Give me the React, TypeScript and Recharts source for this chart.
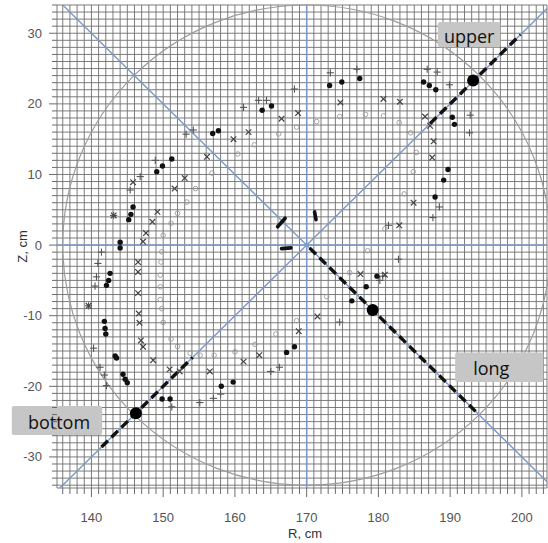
import React from 'react';
import {
  ScatterChart,
  Scatter,
  XAxis,
  YAxis,
  CartesianGrid,
  ReferenceLine,
  ReferenceArea,
  ReferenceDot,
  Label,
} from 'recharts';

// ---- axes ----
const X_MIN = 135.2;
const X_MAX = 203.5;
const Y_MIN = -34.4;
const Y_MAX = 34;
const xTickLabels = [140, 150, 160, 170, 180, 190, 200];
const yTickLabels = [-30, -20, -10, 0, 10, 20, 30];
const GRID_STEP = 1;
const xGridTicks: number[] = [];
for (let v = 136; v <= 203; v += GRID_STEP) xGridTicks.push(v);
const yGridTicks: number[] = [];
for (let v = -34; v <= 34; v += GRID_STEP) yGridTicks.push(v);

// ---- series (R, Z) ----
const plusSeries: [number, number][] = [
  [148.9, 12.0], [146.8, 9.7], [145.4, 7.8], [143.1, 4.2], [141.4, -1.0], [140.9, -2.6],
  [140.7, -4.5], [140.5, -5.8], [139.6, -8.6], [140.3, -14.6], [141.2, -17.3], [141.8, -18.4],
  [142.1, -19.9], [151.2, -22.9], [155.1, -22.3], [157.0, -21.7], [158.0, -21.1], [165.0, -17.9],
  [166.2, -17.3], [174.6, -10.9], [180.6, -4.4], [180.2, -5.0], [181.4, 2.8], [182.8, -2.0],
  [187.6, 3.9], [188.5, 5.4], [192.7, 15.9], [192.8, 18.4], [189.9, 22.7], [188.2, 24.5],
  [186.8, 24.9], [177.0, 24.9], [173.3, 24.4], [168.3, 22.1], [164.4, 20.5], [163.3, 20.5],
  [161.2, 19.5], [154.2, 16.3], [153.2, 15.7],
];

const crossSeries: [number, number][] = [
  [145.8, 8.9], [143.1, 4.2], [139.6, -8.6], [148.5, 3.3], [149.2, 4.7], [147.6, 1.7],
  [147.2, 0.5], [146.5, -2.4], [146.5, -3.8], [146.5, -6.8], [146.6, -9.7], [146.7, -11.0],
  [146.9, -13.5], [147.2, -14.4], [148.6, -16.3], [150.9, -17.6], [152.3, -17.9], [156.5, -17.9],
  [161.2, -16.5], [163.4, -15.6], [168.9, -12.2], [171.5, -10.1], [177.5, -4.1], [180.9, -4.2],
  [182.9, 2.8], [184.9, 6.0], [187.5, 12.4], [187.7, 14.7], [187.2, 16.9], [186.5, 18.2],
  [183.0, 20.3], [180.7, 20.7], [174.7, 20.2], [168.8, 18.7], [166.5, 17.9], [161.9, 16.0],
  [159.8, 15.0], [156.1, 12.5], [153.0, 9.5], [151.6, 8.0],
];

const dotSeries: [number, number][] = [
  [149.1, 10.4], [149.9, 11.2], [151.2, 12.2], [145.8, 5.4], [145.5, 4.35], [145.2, 3.6],
  [144.0, 0.4], [144.0, -0.4], [142.6, -4.0], [142.4, -5.0], [142.1, -5.7], [141.8, -10.8],
  [141.9, -11.8], [142.0, -12.6], [143.3, -15.7], [143.5, -16.0], [144.4, -18.3], [144.7, -19.0],
  [145.0, -19.5], [149.85, -21.8], [150.96, -21.8], [158.1, -20.0], [159.75, -19.4], [167.2, -15.2],
  [168.3, -14.4], [176.3, -7.9], [178.3, -5.9], [179.8, -4.4], [187.9, 6.8], [189.1, 9.2],
  [189.7, 10.7], [190.3, 18.1], [190.6, 17.1], [188.0, 22.0], [187.1, 22.6], [186.3, 23.1],
  [177.4, 23.6], [174.9, 23.1], [173.2, 22.6], [165.1, 19.7], [163.8, 19.1], [157.7, 16.2],
  [156.9, 15.8],
];

const ringSeries: [number, number][] = [
  [154.5, 8.0], [153.3, 6.1], [152.0, 4.5], [151.1, 3.1], [156.8, 10.2], [160.4, 12.9],
  [162.7, 14.2], [166.1, 15.75], [168.6, 16.7], [171.4, 17.5], [174.6, 18.2], [178.2, 18.5],
  [180.7, 18.3], [182.9, 17.35], [184.5, 15.9], [185.3, 13.1], [184.85, 10.4], [183.6, 7.25],
  [180.9, 2.3], [178.5, -0.8], [176.0, -3.9], [172.8, -7.3], [168.6, -10.7], [165.7, -12.6],
  [162.8, -14.05], [160.0, -15.1], [157.1, -15.6], [155.15, -15.6], [153.75, -15.3], [152.0, -14.35],
  [151.1, -13.3], [150.0, -10.95], [149.8, -9.0], [149.6, -7.7], [150.0, 1.4], [149.8, -0.95],
  [149.7, -2.4], [149.6, -4.25], [149.6, -5.9],
];

// ---- reference geometry ----
const diagonals = [
  { a: [136, 34], b: [203.5, -33.5] },
  { a: [135.6, -34.4], b: [203.5, 33.5] },
];
const axesCenter = { r: 170, z: 0 };
const boundaryCircle = { r: 170, z: 0, radius: 34 };
const dashedChords = [
  { a: [187.2, 17.2], b: [199.8, 29.8] },
  { a: [170.4, -0.4], b: [193.9, -23.9] },
  { a: [141.4, -28.6], b: [154.1, -15.9] },
];
const chordPoints: [number, number][] = [[193.2, 23.3], [179.2, -9.2], [146.2, -23.8]];
const centerMarks = [
  { a: [165.95, 2.6], b: [167.0, 3.8] },
  { a: [171.1, 4.7], b: [171.3, 3.6] },
  { a: [166.5, -0.5], b: [167.8, -0.4] },
];
const annotations = [
  { text: 'upper', r1: 188.3, r2: 197.0, z1: 28.0, z2: 31.6, shift: 0 },
  { text: 'long', r1: 190.7, r2: 203.0, z1: -19.4, z2: -15.2, shift: -8 },
  { text: 'bottom', r1: 128.9, r2: 141.5, z1: -26.9, z2: -22.8, shift: 2 },
];

const toPts = (arr: [number, number][]) => arr.map(([r, z]) => ({ r, z }));

const TICK_FONT = 'Liberation Sans, Arial, sans-serif';

const XTick = (props: any) => {
  const { x, y, payload } = props;
  const v = payload.value;
  const major = v % 10 === 0;
  return (
    <g>
      <line x1={x} y1={y} x2={x} y2={y + (major ? 9 : 6)} stroke="#6b6b6b" strokeWidth={1} />
      {major && (
        <text x={x} y={y + 29} textAnchor="middle" dominantBaseline="central" fill="#555" fontSize={13} fontFamily={TICK_FONT}>
          {v}
        </text>
      )}
    </g>
  );
};

const YTick = (props: any) => {
  const { x, y, payload } = props;
  const v = payload.value;
  const major = v % 10 === 0;
  return (
    <g>
      <line x1={x - (major ? 8 : 5)} y1={y} x2={x} y2={y} stroke="#6b6b6b" strokeWidth={1} />
      {major && (
        <text x={x - 15} y={y} textAnchor="end" dominantBaseline="central" fill="#555" fontSize={13} fontFamily={TICK_FONT}>
          {v}
        </text>
      )}
    </g>
  );
};

const PlusShape = (p: any) => {
  const { cx, cy } = p;
  const s = 3.6;
  return (
    <g stroke="#555" strokeWidth={1.1}>
      <line x1={cx - s} y1={cy} x2={cx + s} y2={cy} />
      <line x1={cx} y1={cy - s} x2={cx} y2={cy + s} />
    </g>
  );
};
const CrossShape = (p: any) => {
  const { cx, cy } = p;
  const s = 2.8;
  return (
    <g stroke="#444" strokeWidth={1.2}>
      <line x1={cx - s} y1={cy - s} x2={cx + s} y2={cy + s} />
      <line x1={cx - s} y1={cy + s} x2={cx + s} y2={cy - s} />
    </g>
  );
};
const DotShape = (p: any) => <circle cx={p.cx} cy={p.cy} r={2.7} fill="#111" />;
const RingShape = (p: any) => (
  <circle cx={p.cx} cy={p.cy} r={2.3} fill="none" stroke="#9a9a9a" strokeWidth={0.9} />
);

const EllipseShape = (p: any) => {
  const { x, y, width, height } = p;
  const w = Math.abs(width);
  const h = Math.abs(height);
  const left = Math.min(x, x + width);
  const top = Math.min(y, y + height);
  return (
    <ellipse cx={left + w / 2} cy={top + h / 2} rx={w / 2} ry={h / 2} fill="none" stroke="#9c9c9c" strokeWidth={1.2} />
  );
};

const makeBox = (text: string, shift: number) => (p: any) => {
  const { x, y, width, height } = p;
  const w = Math.abs(width);
  const h = Math.abs(height);
  const left = Math.min(x, x + width);
  const top = Math.min(y, y + height);
  return (
    <g>
      <rect x={left} y={top} width={w} height={h} rx={2} fill="#c6c6c6" />
      <text
        x={left + w / 2 + shift}
        y={top + h / 2 + 1}
        textAnchor="middle"
        dominantBaseline="central"
        fontSize={18}
        fill="#111"
        fontFamily="Open Sans, Noto Sans, sans-serif"
      >
        {text}
      </text>
    </g>
  );
};

export default function App() {
  return (
    <div style={{ position: 'absolute', left: 0, top: 0, background: '#fff' }}>
      <ScatterChart width={548} height={543} margin={{ top: 5, right: 1, bottom: 0, left: 0 }}>
        <CartesianGrid stroke="#6e6e6e" strokeWidth={0.9} />
        <XAxis
          type="number"
          dataKey="r"
          domain={[X_MIN, X_MAX]}
          allowDataOverflow
          ticks={xGridTicks}
          interval={0}
          tick={<XTick />}
          tickLine={false}
          axisLine={false}
          tickSize={0}
          tickMargin={0}
          height={55}
        >
          <Label
            content={(lp: any) => {
              const vb = lp.viewBox;
              return (
                <text x={vb.x + vb.width / 2 + 3} y={vb.y + 45} textAnchor="middle" dominantBaseline="central" fontSize={13} fill="#333" fontFamily={TICK_FONT}>
                  R, cm
                </text>
              );
            }}
          />
        </XAxis>
        <YAxis
          type="number"
          dataKey="z"
          domain={[Y_MIN, Y_MAX]}
          allowDataOverflow
          ticks={yGridTicks}
          interval={0}
          tick={<YTick />}
          tickLine={false}
          axisLine={false}
          tickSize={0}
          tickMargin={0}
          width={57}
        >
          <Label
            content={(lp: any) => {
              const vb = lp.viewBox;
              const cx = vb.x + 22;
              const cy = vb.y + vb.height / 2;
              return (
                <text x={cx} y={cy} transform={`rotate(-90 ${cx} ${cy})`} textAnchor="middle" dominantBaseline="central" fontSize={13} fill="#333" fontFamily={TICK_FONT}>
                  Z, cm
                </text>
              );
            }}
          />
        </YAxis>

        <ReferenceLine x={axesCenter.r} stroke="#7b98c8" strokeWidth={1.5} />
        <ReferenceLine y={axesCenter.z} stroke="#7b98c8" strokeWidth={1.5} />
        {diagonals.map((d, i) => (
          <ReferenceLine
            key={'d' + i}
            segment={[{ x: d.a[0], y: d.a[1] }, { x: d.b[0], y: d.b[1] }]}
            stroke="#7b98c8"
            strokeWidth={1.4}
            ifOverflow="visible"
          />
        ))}
        <ReferenceArea
          x1={boundaryCircle.r - boundaryCircle.radius}
          x2={boundaryCircle.r + boundaryCircle.radius}
          y1={boundaryCircle.z - boundaryCircle.radius}
          y2={boundaryCircle.z + boundaryCircle.radius}
          ifOverflow="hidden"
          shape={EllipseShape}
        />
        {dashedChords.map((d, i) => (
          <ReferenceLine
            key={'c' + i}
            segment={[{ x: d.a[0], y: d.a[1] }, { x: d.b[0], y: d.b[1] }]}
            stroke="#111"
            strokeWidth={3.4}
            strokeDasharray="9 5"
            ifOverflow="visible"
          />
        ))}
        {centerMarks.map((d, i) => (
          <ReferenceLine
            key={'m' + i}
            segment={[{ x: d.a[0], y: d.a[1] }, { x: d.b[0], y: d.b[1] }]}
            stroke="#111"
            strokeWidth={3.6}
            strokeLinecap="round"
            ifOverflow="visible"
          />
        ))}

        <Scatter data={toPts(ringSeries)} shape={RingShape} isAnimationActive={false} />
        <Scatter data={toPts(plusSeries)} shape={PlusShape} isAnimationActive={false} />
        <Scatter data={toPts(crossSeries)} shape={CrossShape} isAnimationActive={false} />
        <Scatter data={toPts(dotSeries)} shape={DotShape} isAnimationActive={false} />

        {chordPoints.map(([r, z], i) => (
          <ReferenceDot key={'p' + i} x={r} y={z} r={6} fill="#000" stroke="none" ifOverflow="visible" />
        ))}
        {annotations.map((a, i) => (
          <ReferenceArea
            key={'a' + i}
            x1={a.r1}
            x2={a.r2}
            y1={a.z1}
            y2={a.z2}
            ifOverflow="visible"
            shape={makeBox(a.text, a.shift)}
          />
        ))}
      </ScatterChart>
    </div>
  );
}
